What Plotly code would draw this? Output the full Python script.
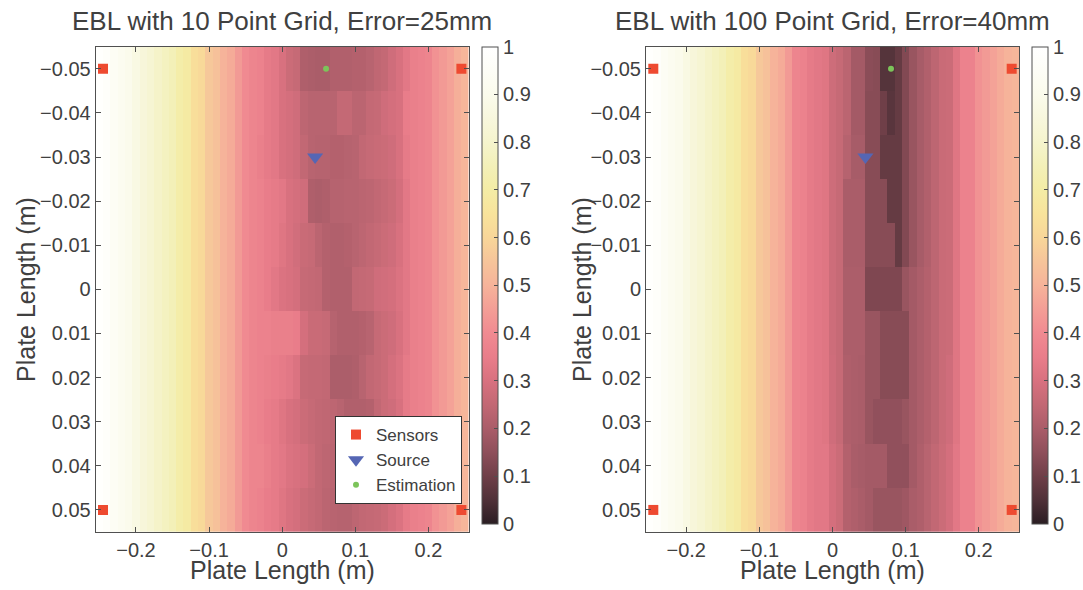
import plotly.graph_objects as go

# ---------------- data ----------------
X_CENTERS = [round(-0.25 + 0.01 * i, 2) for i in range(51)]
Y_CENTERS = [round(-0.05 + 0.01 * j, 2) for j in range(11)]

X_TICKS = [-0.2, -0.1, 0, 0.1, 0.2]
X_TICK_TEXT = ["\u22120.2", "\u22120.1", "0", "0.1", "0.2"]
Y_TICKS = [-0.05, -0.04, -0.03, -0.02, -0.01, 0, 0.01, 0.02, 0.03, 0.04, 0.05]
Y_TICK_TEXT = ["\u22120.05", "\u22120.04", "\u22120.03", "\u22120.02", "\u22120.01", "0",
               "0.01", "0.02", "0.03", "0.04", "0.05"]
CB_TICKS = [0, 0.1, 0.2, 0.3, 0.4, 0.5, 0.6, 0.7, 0.8, 0.9, 1]
CB_TICK_TEXT = ["0", "0.1", "0.2", "0.3", "0.4", "0.5", "0.6", "0.7", "0.8", "0.9", "1"]

SENSORS_X = [-0.245, 0.245, -0.245, 0.245]
SENSORS_Y = [-0.05, -0.05, 0.05, 0.05]
SOURCE_X = [0.045]
SOURCE_Y = [-0.03]
EST_LEFT_X = [0.06]
EST_LEFT_Y = [-0.05]
EST_RIGHT_X = [0.08]
EST_RIGHT_Y = [-0.05]

TITLE_LEFT = "EBL with 10 Point Grid, Error=25mm"
TITLE_RIGHT = "EBL with 100 Point Grid, Error=40mm"
AXIS_LABEL = "Plate Length (m)"

# column profile (x = -0.25 ... 0.25), left chart
BASE_LEFT = [0.99, 0.97, 0.94, 0.92, 0.90, 0.87, 0.84, 0.82, 0.79, 0.77,
             0.75, 0.71, 0.69, 0.63, 0.61, 0.56, 0.54, 0.50, 0.48, 0.44,
             0.40, 0.38, 0.37, 0.35, 0.34, 0.31, 0.29, 0.28, 0.26, 0.25,
             0.24, 0.23, 0.23, 0.23, 0.24, 0.24, 0.25, 0.26, 0.26, 0.27,
             0.28, 0.30, 0.33, 0.36, 0.37, 0.38, 0.42, 0.44, 0.46, 0.49, 0.51]
# central columns 22..42 (x = -0.03 ... 0.17) for each row y=-0.05 ... 0.05
CENTER_LEFT = [
    [0.37, 0.34, 0.33, 0.30, 0.27, 0.26, 0.21, 0.205, 0.20, 0.20, 0.215, 0.215, 0.215, 0.22, 0.22, 0.23, 0.245, 0.255, 0.28, 0.30, 0.33],
    [0.37, 0.34, 0.33, 0.30, 0.29, 0.28, 0.24, 0.23, 0.23, 0.23, 0.23, 0.255, 0.255, 0.235, 0.235, 0.255, 0.26, 0.28, 0.29, 0.30, 0.35],
    [0.36, 0.34, 0.33, 0.30, 0.29, 0.28, 0.25, 0.23, 0.225, 0.225, 0.22, 0.22, 0.225, 0.23, 0.25, 0.26, 0.265, 0.27, 0.28, 0.30, 0.34],
    [0.37, 0.35, 0.34, 0.33, 0.30, 0.29, 0.28, 0.21, 0.205, 0.21, 0.225, 0.225, 0.23, 0.23, 0.235, 0.24, 0.25, 0.26, 0.27, 0.29, 0.33],
    [0.37, 0.35, 0.34, 0.32, 0.30, 0.285, 0.265, 0.26, 0.235, 0.22, 0.215, 0.215, 0.22, 0.23, 0.24, 0.25, 0.26, 0.27, 0.28, 0.30, 0.33],
    [0.37, 0.35, 0.33, 0.31, 0.30, 0.29, 0.26, 0.255, 0.25, 0.22, 0.215, 0.215, 0.215, 0.25, 0.255, 0.26, 0.28, 0.285, 0.29, 0.31, 0.33],
    [0.37, 0.37, 0.36, 0.36, 0.36, 0.35, 0.29, 0.265, 0.265, 0.26, 0.225, 0.215, 0.215, 0.215, 0.22, 0.23, 0.26, 0.27, 0.28, 0.30, 0.33],
    [0.37, 0.36, 0.35, 0.34, 0.33, 0.31, 0.26, 0.255, 0.255, 0.25, 0.205, 0.205, 0.205, 0.21, 0.23, 0.25, 0.26, 0.27, 0.29, 0.31, 0.34],
    [0.37, 0.35, 0.34, 0.32, 0.30, 0.29, 0.27, 0.26, 0.25, 0.245, 0.24, 0.23, 0.215, 0.215, 0.215, 0.22, 0.25, 0.27, 0.28, 0.30, 0.34],
    [0.38, 0.36, 0.34, 0.33, 0.31, 0.30, 0.29, 0.27, 0.25, 0.24, 0.235, 0.23, 0.235, 0.24, 0.25, 0.26, 0.27, 0.28, 0.29, 0.31, 0.34],
    [0.37, 0.35, 0.34, 0.32, 0.30, 0.29, 0.27, 0.26, 0.25, 0.235, 0.23, 0.225, 0.225, 0.24, 0.25, 0.255, 0.26, 0.27, 0.29, 0.31, 0.34],
]

# column profile, right chart
BASE_RIGHT = [0.99, 0.97, 0.94, 0.92, 0.90, 0.87, 0.84, 0.82, 0.79, 0.77,
              0.75, 0.71, 0.69, 0.63, 0.61, 0.56, 0.54, 0.50, 0.48, 0.44,
              0.38, 0.37, 0.34, 0.33, 0.32, 0.275, 0.26, 0.235, 0.19, 0.19,
              0.14, 0.14, 0.10, 0.085, 0.085, 0.13, 0.17, 0.195, 0.215, 0.24,
              0.265, 0.27, 0.32, 0.37, 0.37, 0.42, 0.44, 0.46, 0.48, 0.50, 0.51]
# central columns 24..42 (x = -0.01 ... 0.17) for each row
CENTER_RIGHT = [
    [0.32, 0.275, 0.26, 0.235, 0.19, 0.19, 0.145, 0.14, 0.06, 0.06, 0.085, 0.13, 0.17, 0.195, 0.215, 0.24, 0.265, 0.27, 0.32],
    [0.32, 0.275, 0.26, 0.235, 0.19, 0.19, 0.14, 0.14, 0.10, 0.065, 0.085, 0.13, 0.17, 0.195, 0.215, 0.24, 0.265, 0.27, 0.32],
    [0.32, 0.275, 0.26, 0.225, 0.195, 0.195, 0.14, 0.14, 0.085, 0.085, 0.085, 0.13, 0.17, 0.195, 0.215, 0.24, 0.265, 0.27, 0.32],
    [0.32, 0.275, 0.26, 0.20, 0.20, 0.20, 0.14, 0.14, 0.14, 0.085, 0.085, 0.13, 0.17, 0.195, 0.215, 0.24, 0.265, 0.27, 0.32],
    [0.32, 0.275, 0.26, 0.20, 0.20, 0.20, 0.14, 0.14, 0.14, 0.14, 0.085, 0.13, 0.17, 0.195, 0.215, 0.24, 0.265, 0.27, 0.32],
    [0.32, 0.275, 0.26, 0.205, 0.205, 0.205, 0.125, 0.125, 0.125, 0.125, 0.125, 0.17, 0.19, 0.205, 0.22, 0.24, 0.265, 0.27, 0.32],
    [0.32, 0.275, 0.26, 0.205, 0.205, 0.205, 0.17, 0.17, 0.14, 0.14, 0.14, 0.14, 0.19, 0.205, 0.22, 0.24, 0.265, 0.27, 0.32],
    [0.32, 0.28, 0.26, 0.21, 0.205, 0.20, 0.17, 0.17, 0.14, 0.14, 0.14, 0.14, 0.19, 0.205, 0.22, 0.24, 0.265, 0.28, 0.32],
    [0.32, 0.28, 0.26, 0.21, 0.205, 0.20, 0.17, 0.155, 0.155, 0.155, 0.155, 0.17, 0.19, 0.205, 0.22, 0.24, 0.265, 0.28, 0.32],
    [0.33, 0.29, 0.27, 0.22, 0.20, 0.195, 0.19, 0.19, 0.19, 0.155, 0.155, 0.155, 0.19, 0.21, 0.23, 0.25, 0.27, 0.29, 0.33],
    [0.33, 0.29, 0.27, 0.22, 0.21, 0.20, 0.19, 0.17, 0.17, 0.17, 0.17, 0.18, 0.20, 0.21, 0.23, 0.25, 0.27, 0.29, 0.33],
]

COLORSCALE = [
    [0.00, "#2a1d22"], [0.05, "#4f3138"], [0.10, "#6f3f48"], [0.15, "#8e4f5a"],
    [0.20, "#aa5d69"], [0.25, "#c26874"], [0.30, "#d8717f"], [0.35, "#e97d8a"],
    [0.40, "#f08a91"], [0.45, "#f39e96"], [0.50, "#f6b39a"], [0.55, "#f6c49a"],
    [0.60, "#f8d699"], [0.65, "#f8e39b"], [0.70, "#f4eca5"], [0.75, "#f3f0b8"],
    [0.80, "#f5f4cd"], [0.85, "#f8f7dd"], [0.90, "#fbfbec"], [0.95, "#fdfdf6"],
    [1.00, "#ffffff"],
]


def build_grid(base, centers, start):
    grid = []
    for row_vals in centers:
        row = list(base)
        row[start:start + len(row_vals)] = row_vals
        grid.append(row)
    return grid


Z_LEFT = build_grid(BASE_LEFT, CENTER_LEFT, 22)
Z_RIGHT = build_grid(BASE_RIGHT, CENTER_RIGHT, 24)

# ---------------- figure ----------------
W, H = 1083, 590
FONT = "Liberation Sans, Arial, Helvetica, sans-serif"
TXT = "#404040"
AX = "#505050"
TICK_SIZE = 20


def fx(xw):
    """window x pixel -> paper fraction"""
    return xw / W


def fy(yw):
    """window y pixel -> paper fraction"""
    return 1 - yw / H


LEFT_DOM = [fx(95.7), fx(468.7)]
RIGHT_DOM = [fx(646.0), fx(1019.0)]
Y_DOM = [fy(532.0), fy(46.7)]

fig = go.Figure()


def colorbar(xpix):
    return dict(
        x=fx(xpix), xanchor="left", xref="paper",
        y=fy(46.7), yanchor="top", len=477.0 / H, lenmode="fraction",
        thickness=16, thicknessmode="pixels",
        outlinecolor=AX, outlinewidth=1,
        tickmode="array", tickvals=CB_TICKS, ticktext=CB_TICK_TEXT,
        ticks="inside", ticklen=4, tickcolor=AX,
        tickfont=dict(family=FONT, size=TICK_SIZE, color=TXT),
        xpad=0, ypad=0,
    )


fig.add_trace(go.Heatmap(
    x=X_CENTERS, y=Y_CENTERS, z=Z_LEFT, zmin=0, zmax=1,
    colorscale=COLORSCALE, colorbar=colorbar(481.7),
    xaxis="x", yaxis="y", hoverinfo="skip",
))
fig.add_trace(go.Heatmap(
    x=X_CENTERS, y=Y_CENTERS, z=Z_RIGHT, zmin=0, zmax=1,
    colorscale=COLORSCALE, colorbar=colorbar(1031.7),
    xaxis="x2", yaxis="y2", hoverinfo="skip",
))

SENSOR_MK = dict(symbol="square", size=10, color="#ee4a30")
SOURCE_MK = dict(symbol="triangle-down", size=14, color="#5566b4")
EST_MK = dict(symbol="circle", size=6, color="#7cc45a")

for ax, est_x, est_y, show in (("", EST_LEFT_X, EST_LEFT_Y, True), ("2", EST_RIGHT_X, EST_RIGHT_Y, False)):
    fig.add_trace(go.Scatter(x=SENSORS_X, y=SENSORS_Y, mode="markers", marker=SENSOR_MK,
                             name="Sensors", showlegend=show, xaxis="x" + ax, yaxis="y" + ax, hoverinfo="skip"))
    fig.add_trace(go.Scatter(x=SOURCE_X, y=SOURCE_Y, mode="markers", marker=SOURCE_MK,
                             name="Source", showlegend=show, xaxis="x" + ax, yaxis="y" + ax, hoverinfo="skip"))
    fig.add_trace(go.Scatter(x=est_x, y=est_y, mode="markers", marker=EST_MK,
                             name="Estimation", showlegend=show, xaxis="x" + ax, yaxis="y" + ax, hoverinfo="skip"))

xaxis_common = dict(
    range=[-0.255, 0.255], tickmode="array", tickvals=X_TICKS, ticktext=X_TICK_TEXT,
    ticks="inside", ticklen=5, tickcolor=AX, showline=True, linecolor=AX, linewidth=1,
    mirror="ticks", showgrid=False, zeroline=False, automargin=False,
    tickfont=dict(family=FONT, size=TICK_SIZE, color=TXT),
)
yaxis_common = dict(
    range=[0.055, -0.055], tickmode="array", tickvals=Y_TICKS, ticktext=Y_TICK_TEXT,
    ticks="inside", ticklen=5, tickcolor=AX, showline=True, linecolor=AX, linewidth=1,
    mirror="ticks", showgrid=False, zeroline=False, domain=Y_DOM, automargin=False,
    tickfont=dict(family=FONT, size=TICK_SIZE, color=TXT),
)

fig.update_layout(
    width=W, height=H,
    margin=dict(l=0, r=0, t=0, b=0, pad=0, autoexpand=False),
    paper_bgcolor="white", plot_bgcolor="white",
    font=dict(family=FONT, color=TXT),
    xaxis=dict(domain=LEFT_DOM, anchor="y", **xaxis_common),
    yaxis=dict(anchor="x", **yaxis_common),
    xaxis2=dict(domain=RIGHT_DOM, anchor="y2", **xaxis_common),
    yaxis2=dict(anchor="x2", **yaxis_common),
    showlegend=True,
    legend=dict(
        x=fx(462.0), xanchor="right", y=fy(504.0), yanchor="bottom",
        bgcolor="white", bordercolor="#333333", borderwidth=1,
        font=dict(family=FONT, size=17, color=TXT),
        tracegroupgap=0, itemsizing="trace",
    ),
)

annotations = []
for cx, title in ((282.2, TITLE_LEFT), (832.5, TITLE_RIGHT)):
    annotations.append(dict(text=title, x=fx(cx), y=fy(21.0), xref="paper", yref="paper",
                            xanchor="center", yanchor="middle", showarrow=False,
                            font=dict(family=FONT, size=26, color=TXT)))
    annotations.append(dict(text=AXIS_LABEL, x=fx(cx), y=fy(570.0), xref="paper", yref="paper",
                            xanchor="center", yanchor="middle", showarrow=False,
                            font=dict(family=FONT, size=25, color=TXT)))
for cx in (26.0, 582.0):
    annotations.append(dict(text=AXIS_LABEL, x=fx(cx), y=fy(290.0), xref="paper", yref="paper",
                            xanchor="center", yanchor="middle", showarrow=False, textangle=-90,
                            font=dict(family=FONT, size=25, color=TXT)))
fig.update_layout(annotations=annotations)

# remove the default 8px page margin so the figure fills the window exactly
fig.write_html(
    "out.html",
    config={"displayModeBar": False},
    post_script="document.body.style.margin='0';document.body.style.overflow='hidden';",
)
